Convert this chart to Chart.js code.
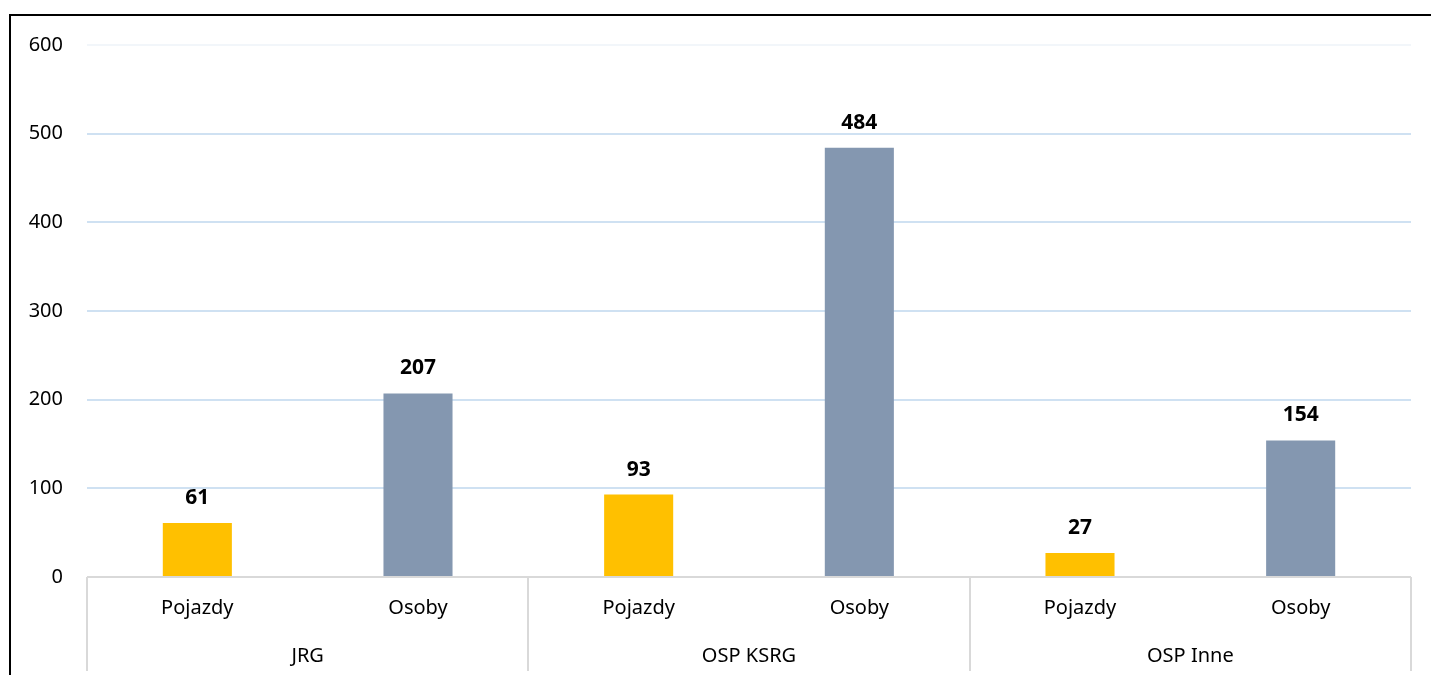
<!DOCTYPE html>
<html>
<head>
<meta charset="utf-8">
<script src="https://cdn.jsdelivr.net/npm/chart.js@4.4.1/dist/chart.umd.min.js"></script>
<style>
  html, body { margin: 0; padding: 0; background: #fff; overflow: hidden; }
  #frame { position: absolute; left: 9px; top: 14px; width: 1600px; height: 900px; border: 2px solid #000; }
  #wrap { position: absolute; left: 0; top: 0; width: 1431px; height: 671px; }
</style>
</head>
<body>
<div id="frame"></div>
<div id="wrap"><canvas id="unitsChart"></canvas></div>
<script>
// Groups and sub categories
const groups = ['JRG', 'OSP KSRG', 'OSP Inne'];
const subLabels = ['Pojazdy', 'Osoby'];

// Values per series
const pojazdy = [61, 93, 27];
const osoby = [207, 484, 154];

// Y axis ticks
const yTicks = [0, 100, 200, 300, 400, 500, 600];

const colPojazdy = '#FFC000';
const colOsoby = '#8497B0';

// flatten for the category axis
const labels = [];
const values = [];
const colors = [];
groups.forEach((g, i) => {
    labels.push(subLabels[0]); values.push(pojazdy[i]); colors.push(colPojazdy);
    labels.push(subLabels[1]); values.push(osoby[i]); colors.push(colOsoby);
});

const fontFamily = "'Noto Sans', sans-serif";

// Value labels above bars
const valueLabels = {
    id: 'valueLabels',
    afterDatasetsDraw(chart) {
        const ctx = chart.ctx;
        const meta = chart.getDatasetMeta(0);
        ctx.save();
        ctx.font = 'bold 21px ' + fontFamily;
        ctx.fillStyle = '#000';
        ctx.textAlign = 'center';
        ctx.textBaseline = 'middle';
        meta.data.forEach((bar, i) => {
            ctx.fillText(values[i], bar.x, bar.y - 25);
        });
        ctx.restore();
    }
};

// Group separators under the axis
const groupLines = {
    id: 'groupLines',
    afterDraw(chart) {
        const ctx = chart.ctx;
        const x = chart.scales.x;
        const area = chart.chartArea;
        const bottom = chart.height;
        const per = subLabels.length;
        const xs = [area.left];
        for (let i = 1; i < groups.length; i++) {
            const a = x.getPixelForValue(i * per - 1);
            const b = x.getPixelForValue(i * per);
            xs.push((a + b) / 2);
        }
        xs.push(area.right);
        ctx.save();
        ctx.strokeStyle = '#D9D9D9';
        ctx.lineWidth = 2;
        ctx.beginPath();
        ctx.moveTo(area.left, area.bottom);
        ctx.lineTo(area.right, area.bottom);
        xs.forEach(px => {
            ctx.moveTo(Math.round(px), area.bottom);
            ctx.lineTo(Math.round(px), bottom);
        });
        ctx.stroke();
        ctx.restore();
    }
};

const ctx = document.getElementById('unitsChart').getContext('2d');
const unitsChart = new Chart(ctx, {
    type: 'bar',
    data: {
        labels: labels,
        datasets: [{
            data: values,
            backgroundColor: colors,
            barPercentage: 0.313,
            categoryPercentage: 1
        }]
    },
    options: {
        responsive: true,
        maintainAspectRatio: false,
        animation: false,
        layout: { padding: { top: 45, right: 20, left: 0, bottom: 0 } },
        plugins: {
            legend: { display: false },
            tooltip: { enabled: false }
        },
        scales: {
            y: {
                min: 0,
                max: 600,
                afterBuildTicks(scale) {
                    scale.ticks = yTicks.map(v => ({ value: v }));
                },
                afterFit(scale) { scale.width = 87; },
                border: { display: false },
                grid: {
                    drawTicks: false,
                    lineWidth: 2,
                    color: c => c.tick.value === 600 ? '#F2F6FA' : (c.tick.value === 0 ? 'rgba(0,0,0,0)' : '#CFE1F2')
                },
                ticks: {
                    padding: 24,
                    color: '#000',
                    font: { family: fontFamily, size: 20 }
                }
            },
            x: {
                grid: { display: false },
                border: { display: false },
                afterFit(scale) { scale.height = 48; },
                ticks: {
                    padding: 11,
                    color: '#000',
                    maxRotation: 0,
                    font: { family: fontFamily, size: 20 }
                }
            },
            x2: {
                type: 'category',
                position: 'bottom',
                labels: groups,
                grid: { display: false },
                border: { display: false },
                afterFit(scale) { scale.height = 46; },
                ticks: {
                    padding: 11,
                    color: '#000',
                    maxRotation: 0,
                    font: { family: fontFamily, size: 20 }
                }
            }
        }
    },
    plugins: [valueLabels, groupLines]
});
</script>
</body>
</html>
